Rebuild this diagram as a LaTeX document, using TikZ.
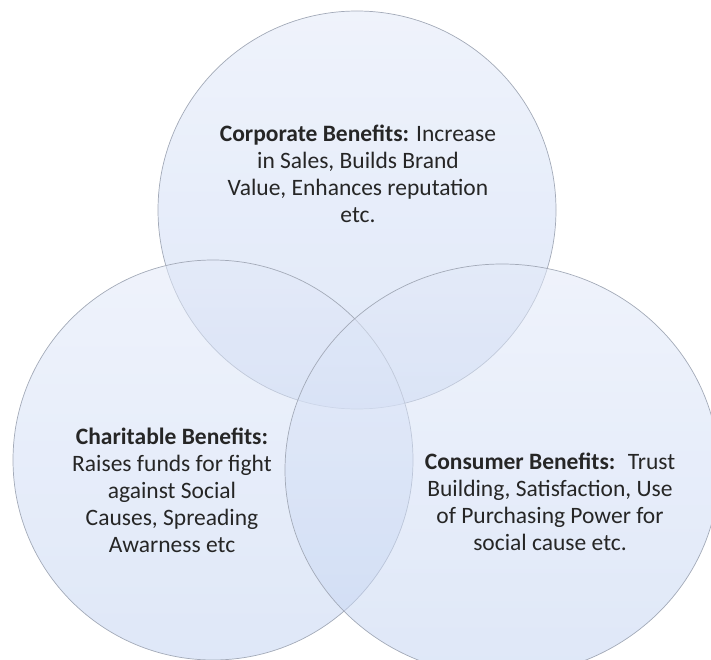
\documentclass[tikz,border=0pt]{standalone}
\usepackage{fontspec}
\setmainfont{Carlito}
\usepackage{xcolor}
\usetikzlibrary{shapes.geometric}
\definecolor{VennTop}{HTML}{E2E9F8}
\definecolor{VennBottom}{HTML}{C4D4F2}
\definecolor{VennLine}{HTML}{A3AAB8}
\definecolor{VennText}{HTML}{262626}
\tikzset{
  venn/.style={circle, inner sep=0pt, draw=VennLine, line width=0.7pt, top color=VennTop, bottom color=VennBottom, fill opacity=0.55, draw opacity=1},
  venntext/.style={align=center, text=VennText, font=\fontsize{23.5}{27}\selectfont}
}
\begin{document}
\begin{tikzpicture}[x=1pt, y=-1pt]
  \useasboundingbox (0,0) rectangle (711,660);
  % the three sets
  \node[venn, minimum size=398pt] (corp) at (357,210) {};
  \node[venn, minimum size=400pt] (char) at (213,460) {};
  \node[venn, ellipse, minimum width=434pt, minimum height=412pt] (cons) at (502,470) {};
  % labels
  \node[venntext] (corptext) at (358,174) {\textbf{Corporate Benefits:} Increase\\in Sales, Builds Brand\\Value, Enhances reputation\\etc.};
  \node[venntext] (chartext) at (172,490) {\textbf{Charitable Benefits:}\\Raises funds for fight\\against Social\\Causes, Spreading\\Awarness etc};
  \node[venntext] (constext) at (550,502) {\textbf{Consumer Benefits:}~ Trust\\Building, Satisfaction, Use\\of Purchasing Power for\\social cause etc.};
\end{tikzpicture}
\end{document}
